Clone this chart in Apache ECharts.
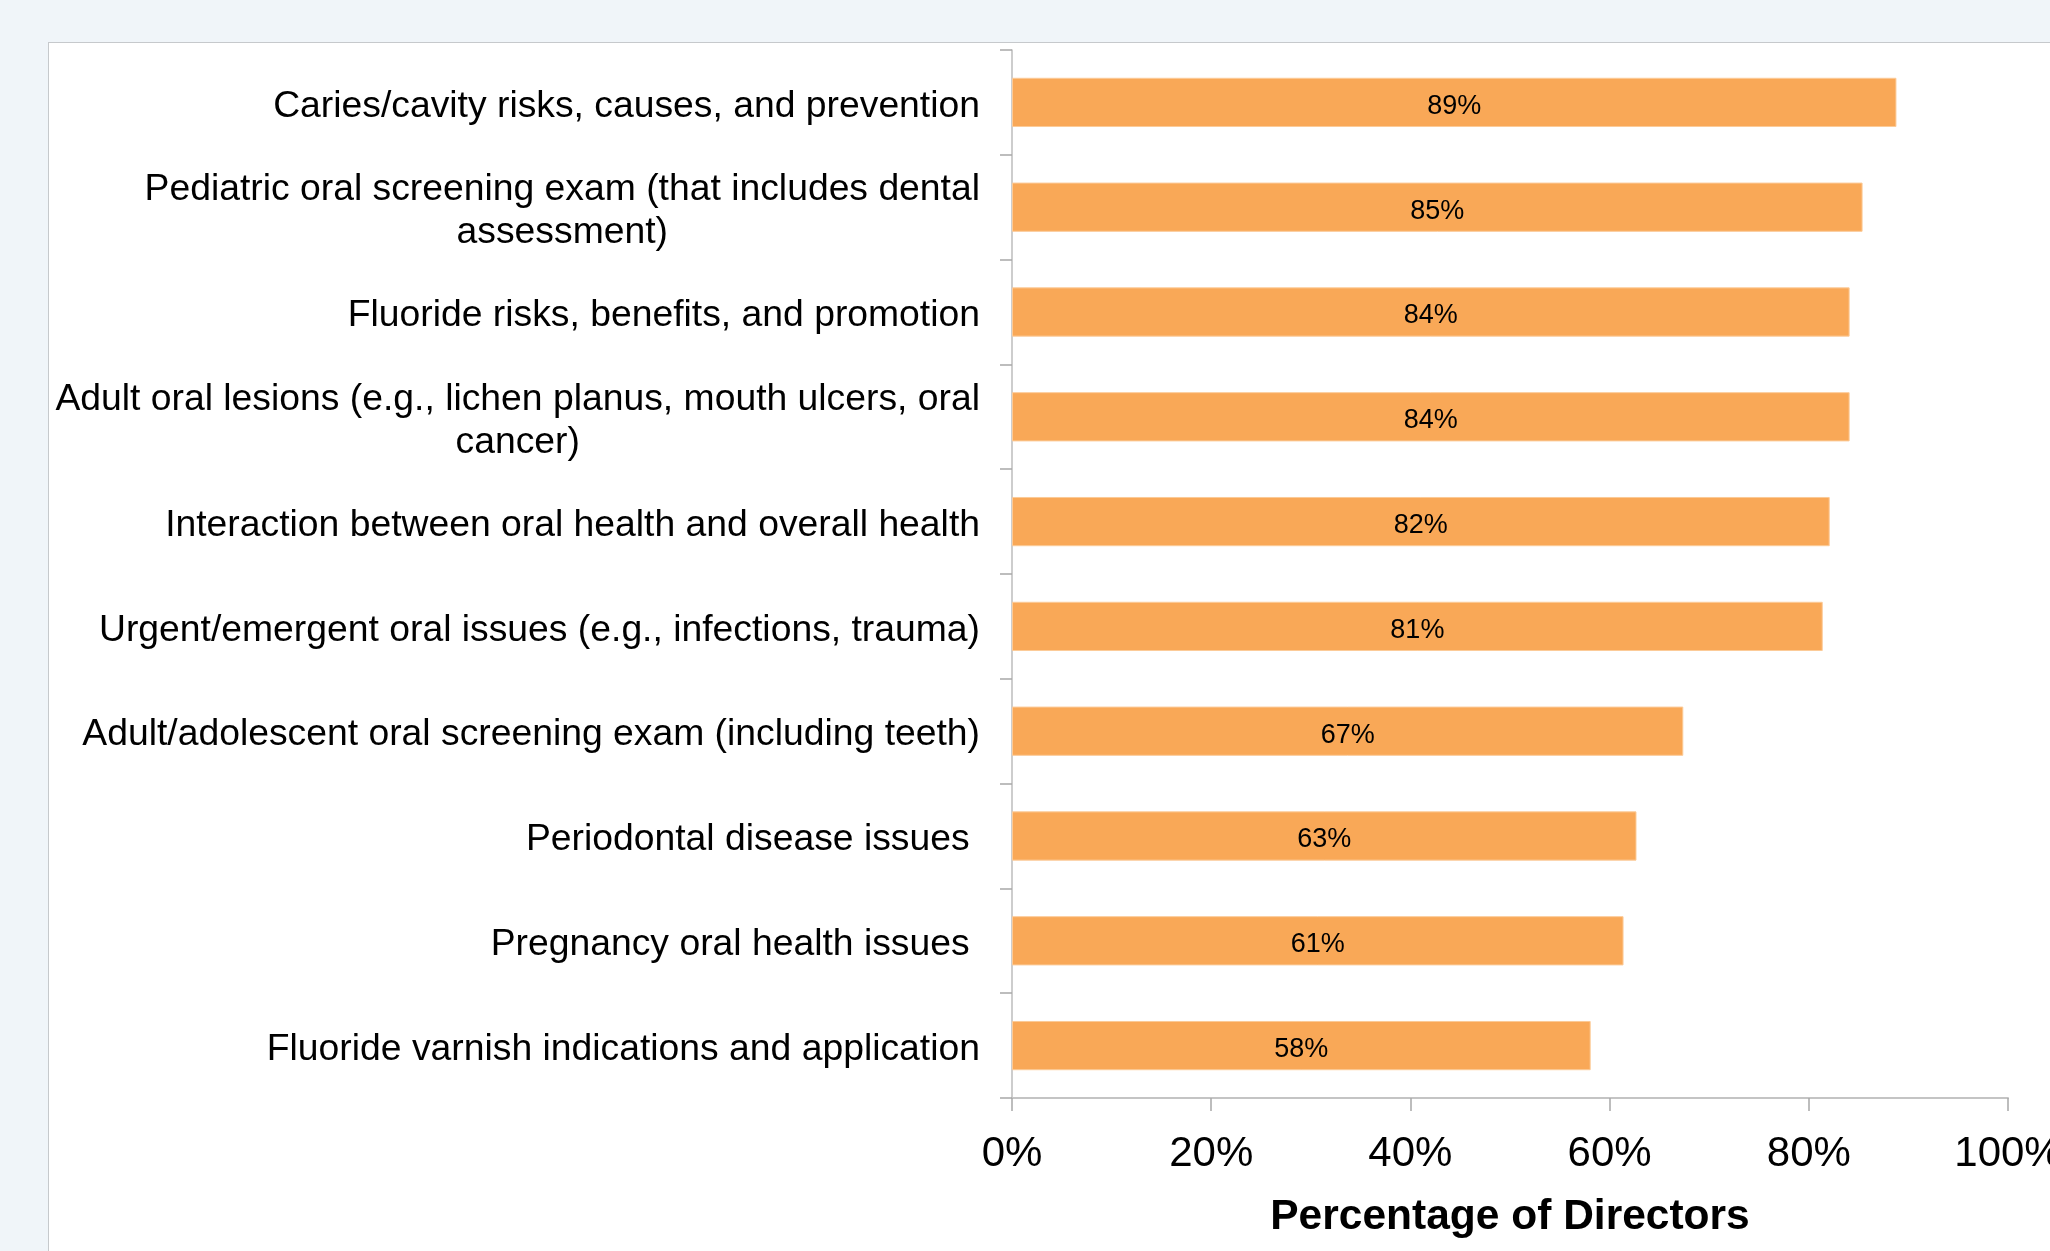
<!DOCTYPE html>
<html>
<head>
<meta charset="utf-8">
<script src="https://cdn.jsdelivr.net/npm/echarts@6/dist/echarts.min.js"></script>
<style>
  html, body { margin: 0; padding: 0; width: 2050px; height: 1251px; overflow: hidden; background: #f0f5f9; }
  #panel { position: absolute; left: 48px; top: 42px; width: 2100px; height: 1300px; background: #ffffff; border: 1.5px solid #c6c9cc; box-sizing: border-box; }
  #chart { position: absolute; left: 0; top: 0; width: 2050px; height: 1251px; }
</style>
</head>
<body>
<div id="panel"></div>
<div id="chart"></div>
<script>
const categories = [
  "Caries/cavity risks, causes, and prevention",
  "Pediatric oral screening exam (that includes dental\nassessment)",
  "Fluoride risks, benefits, and promotion",
  "Adult oral lesions (e.g., lichen planus, mouth ulcers, oral\ncancer)",
  "Interaction between oral health and overall health",
  "Urgent/emergent oral issues (e.g., infections, trauma)",
  "Adult/adolescent oral screening exam (including teeth)",
  "Periodontal disease issues ",
  "Pregnancy oral health issues ",
  "Fluoride varnish indications and application"
];
const percentages = [88.8, 85.4, 84.1, 84.1, 82.1, 81.4, 67.4, 62.7, 61.4, 58.1];
const xTicks = [0, 20, 40, 60, 80, 100];

const FONT = '"Liberation Sans", Arial, Helvetica, sans-serif';
const chart = echarts.init(document.getElementById('chart'), null, { renderer: 'canvas', width: 2050, height: 1251 });

chart.setOption({
  backgroundColor: 'transparent',
  animation: false,
  grid: { left: 1012, right: 42, top: 50, bottom: 153, containLabel: false, outerBoundsMode: 'none' },
  xAxis: {
    type: 'value',
    min: xTicks[0],
    max: xTicks[xTicks.length - 1],
    interval: xTicks[1] - xTicks[0],
    name: 'Percentage of Directors',
    nameLocation: 'middle',
    nameGap: 98,
    nameTextStyle: { fontFamily: FONT, fontSize: 42.5, fontWeight: 'bold', color: '#000' },
    axisLine: { show: true, lineStyle: { color: '#c4c4c4', width: 2 } },
    axisTick: { show: true, length: 13, lineStyle: { color: '#a8a8a8', width: 1.5 } },
    axisLabel: { fontFamily: FONT, fontSize: 42, color: '#000', margin: 35, hideOverlap: false, formatter: v => v + '%' },
    splitLine: { show: false }
  },
  yAxis: {
    type: 'category',
    inverse: true,
    data: categories,
    axisLine: { show: true, lineStyle: { color: '#bdbdbd', width: 1.5 } },
    axisTick: { show: true, length: 12, lineStyle: { color: '#a8a8a8', width: 1.5 } },
    axisLabel: {
      fontFamily: FONT, fontSize: 37.3, color: '#000', margin: 32, lineHeight: 43,
      padding: [8, 0, 0, 0],
      interval: 0,
      formatter: v => v.split('\n').map(l => '{c|' + l + '}').join('\n'),
      rich: { c: { align: 'center', fontFamily: FONT, fontSize: 37.3, lineHeight: 43, color: '#000' } }
    },
    splitLine: { show: false }
  },
  series: [{
    type: 'bar',
    data: percentages,
    barWidth: '47%',
    itemStyle: { color: '#f9a857', borderColor: '#fccb98', borderWidth: 1 },
    label: {
      show: true,
      position: 'inside',
      offset: [0, 4],
      fontFamily: FONT,
      fontSize: 27,
      color: '#000',
      textBorderWidth: 0,
      formatter: p => Math.round(p.value) + '%'
    }
  }]
});
</script>
</body>
</html>
